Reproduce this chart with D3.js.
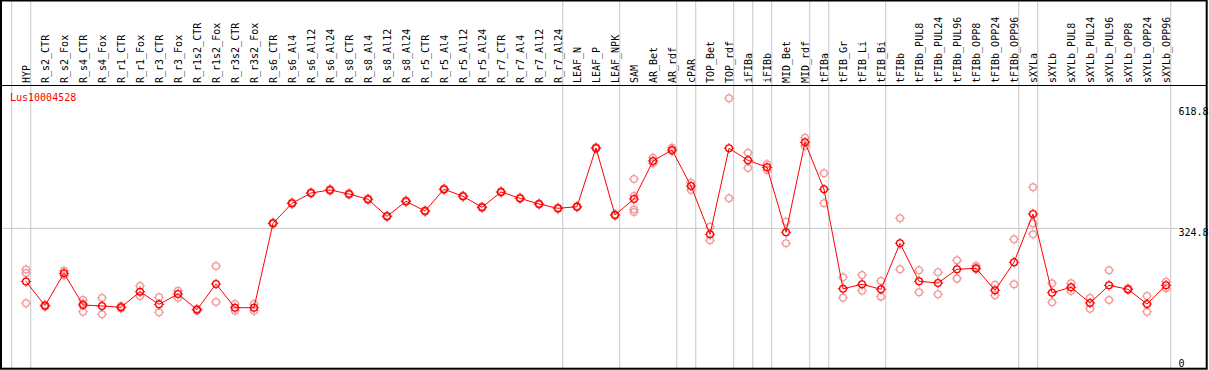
<!DOCTYPE html>
<html>
<head>
<meta charset="utf-8">
<script src="https://cdn.jsdelivr.net/npm/d3@7"></script>
<style>
  html, body { margin: 0; padding: 0; background: #fff; }
  svg { display: block; }
  text { font-family: "DejaVu Sans Mono", "Liberation Mono", monospace; font-size: 10px; }
</style>
</head>
<body>
<div id="chart"></div>
<script>
const geneId = 'Lus10004528';

const categories = [
    'HYP', 'R_s2_CTR', 'R_s2_Fox', 'R_s4_CTR', 'R_s4_Fox', 'R_r1_CTR', 'R_r1_Fox',
    'R_r3_CTR', 'R_r3_Fox', 'R_r1s2_CTR', 'R_r1s2_Fox', 'R_r3s2_CTR', 'R_r3s2_Fox',
    'R_s6_CTR', 'R_s6_Al4', 'R_s6_Al12', 'R_s6_Al24', 'R_s8_CTR', 'R_s8_Al4', 'R_s8_Al12',
    'R_s8_Al24', 'R_r5_CTR', 'R_r5_Al4', 'R_r5_Al12', 'R_r5_Al24', 'R_r7_CTR', 'R_r7_Al4',
    'R_r7_Al12', 'R_r7_Al24', 'LEAF_N', 'LEAF_P', 'LEAF_NPK', 'SAM', 'AR_Bet', 'AR_rdf',
    'cPAR', 'TOP_Bet', 'TOP_rdf', 'iFIBa', 'iFIBb', 'MID_Bet', 'MID_rdf', 'tFIBa',
    'tFIB_Gr', 'tFIB_Li', 'tFIB_Bi', 'tFIBb', 'tFIBb_PUL8', 'tFIBb_PUL24', 'tFIBb_PUL96',
    'tFIBb_OPP8', 'tFIBb_OPP24', 'tFIBb_OPP96', 'sXYLa', 'sXYLb', 'sXYLb_PUL8',
    'sXYLb_PUL24', 'sXYLb_PUL96', 'sXYLb_OPP8', 'sXYLb_OPP24', 'sXYLb_OPP96'
];

// mean expression per sample
const meanValues = [
    204.6, 149.9, 223.2, 151.5, 149.2, 146.3, 181.6, 153.1, 176.4, 140.9, 199.0, 145.4, 145.4,
    336.2, 381.4, 404.7, 411.5, 402.5, 390.5, 352.0, 385.9, 364.0, 413.1, 397.3, 372.4,
    407.0, 392.7, 379.8, 370.1, 373.7, 506.5, 355.0, 391.2, 477.1, 501.9, 420.5, 311.3,
    505.8, 478.7, 462.8, 315.9, 519.3, 413.1, 188.3, 198.3, 187.0, 291.0, 205.1, 201.2,
    232.2, 234.5, 184.7, 248.0, 357.2, 179.3, 191.5, 156.0, 196.0, 187.0, 153.7, 196.0
];

// individual replicates per sample
const replicates = [
    [231.8, 223.8, 155.3], [152, 148, 150], [229.0, 218.6], [162.8, 155.0, 136.3],
    [167.3, 130.5], [149, 144], [194.4, 171.8], [168.9, 135.0], [183.8, 168.0], [143, 139],
    [239.7, 158.3], [153.7, 138.6], [153.7, 138.6], [338, 334.5], [383, 380], [406, 403.5],
    [413, 410], [404, 401], [392, 389], [353.5, 350.5], [387.5, 384.5], [365.5, 362.5],
    [414.5, 411.5], [399, 396], [374, 371], [408.5, 405.5], [394, 391.5], [381, 378.5],
    [371.5, 368.5], [375, 372.5], [508, 505], [356.5, 353.5], [436.4, 397.9, 367.4, 361.8],
    [484.5, 471.9], [507.1, 499.0], [428.0, 411.5], [328.5, 297.8], [618.8, 392.7],
    [495.8, 461.2], [469.6, 456.7], [339.8, 291.0], [529.7, 511.0], [449.3, 381.4],
    [214.1, 168.0], [219.3, 183.8], [205.8, 170.3], [347.5, 232.2], [229.9, 180.2],
    [225.4, 175.7], [252.6, 211.0], [240.3, 232.2], [197.4, 173.4], [300.0, 198.3],
    [417.6, 336.2, 311.3], [200.6, 157.6], [200.6, 183.1], [167.3, 143.1], [229.9, 162.8],
    [188.5, 185.5], [171.8, 136.3], [204.2, 189.2]
];

// last sample of each tissue group (a divider is drawn after it)
const groupEnds = ['HYP', 'R_r7_Al24', 'LEAF_NPK', 'AR_rdf', 'cPAR', 'TOP_rdf', 'iFIBa', 'iFIBb',
    'MID_rdf', 'tFIBa', 'tFIB_Bi', 'tFIBb_OPP96', 'sXYLa', 'sXYLb_OPP96'];

const axisTicks = [0, 324.8, 618.8];
const gridTicks = [324.8];

const width = 1209, height = 370;
const headerBottom = 85;
const plotRight = 1206.7, plotBottom = 368.7;

const svg = d3.select('#chart')
    .append('svg')
    .attr('width', width)
    .attr('height', height);

const x = d3.scalePoint()
    .domain(categories)
    .range([26, 1166]);

const y = d3.scaleLinear()
    .domain([0, 618.8])
    .range([372, 98.3]);

const gridColor = '#c6c6c6';

// group dividers, full height
svg.append('g')
    .selectAll('line')
    .data(['HYP'].map(() => null).concat(groupEnds))
    .join('line')
    .attr('x1', (d, i) => i === 0 ? x(categories[0]) - x.step() + x.step() / 4 : x(d) + x.step() / 4)
    .attr('x2', (d, i) => i === 0 ? x(categories[0]) - x.step() + x.step() / 4 : x(d) + x.step() / 4)
    .attr('y1', 0)
    .attr('y2', plotBottom)
    .attr('stroke', gridColor)
    .attr('stroke-width', 1);

// horizontal reference line
svg.append('g')
    .selectAll('line')
    .data(gridTicks)
    .join('line')
    .attr('x1', 0)
    .attr('x2', 1178)
    .attr('y1', d => y(d))
    .attr('y2', d => y(d))
    .attr('stroke', gridColor)
    .attr('stroke-width', 1);

// header separator
svg.append('line')
    .attr('x1', 0).attr('x2', plotRight)
    .attr('y1', headerBottom + 0.5).attr('y2', headerBottom + 0.5)
    .attr('stroke', '#000')
    .attr('stroke-width', 1);

// rotated sample labels
svg.append('g')
    .selectAll('text')
    .data(categories)
    .join('text')
    .attr('transform', d => `translate(${x(d)},83) rotate(-90)`)
    .attr('dy', '0.35em')
    .attr('text-anchor', 'start')
    .attr('fill', '#000')
    .text(d => d);

// value labels on the right, kept inside the plot area
svg.append('g')
    .selectAll('text')
    .data(axisTicks)
    .join('text')
    .attr('x', 1178.5)
    .attr('y', d => Math.min(Math.max(y(d), 107.7), 359.3))
    .attr('dy', '0.72em')
    .attr('fill', '#000')
    .text(d => d === 0 ? '0' : d.toFixed(1));

// marker: ring with four short ticks
const markerPath = 'M0,-5.2V-3.2M0,3.2V5.2M-5.2,0H-3.2M3.2,0H5.2';

function drawMarker(sel, color) {
    sel.append('circle')
        .attr('r', 3.4)
        .attr('fill', 'none')
        .attr('stroke', color)
        .attr('stroke-width', 1.3);
    sel.append('path')
        .attr('d', markerPath)
        .attr('stroke', color)
        .attr('stroke-width', 1);
}

// replicate points
const repPoints = replicates.flatMap((vals, i) => vals.map(v => ({ cat: categories[i], v })));
svg.append('g')
    .selectAll('g')
    .data(repPoints)
    .join('g')
    .attr('transform', d => `translate(${x(d.cat)},${y(d.v)})`)
    .call(drawMarker, '#f09a9a');

// mean line
const line = d3.line()
    .x((d, i) => x(categories[i]))
    .y(d => y(d));

svg.append('path')
    .datum(meanValues)
    .attr('d', line)
    .attr('fill', 'none')
    .attr('stroke', '#ff0000')
    .attr('stroke-width', 1);

svg.append('g')
    .selectAll('g')
    .data(meanValues)
    .join('g')
    .attr('transform', (d, i) => `translate(${x(categories[i])},${y(d)})`)
    .call(drawMarker, '#ff0000');

// gene id
svg.append('text')
    .attr('x', 10)
    .attr('y', 100.5)
    .attr('fill', '#ff0000')
    .text(geneId);

// outer frame
svg.append('rect')
    .attr('x', 1)
    .attr('y', 0.5)
    .attr('width', plotRight - 1)
    .attr('height', plotBottom - 0.5)
    .attr('fill', 'none')
    .attr('stroke', '#000')
    .attr('stroke-width', 2);
</script>
</body>
</html>
